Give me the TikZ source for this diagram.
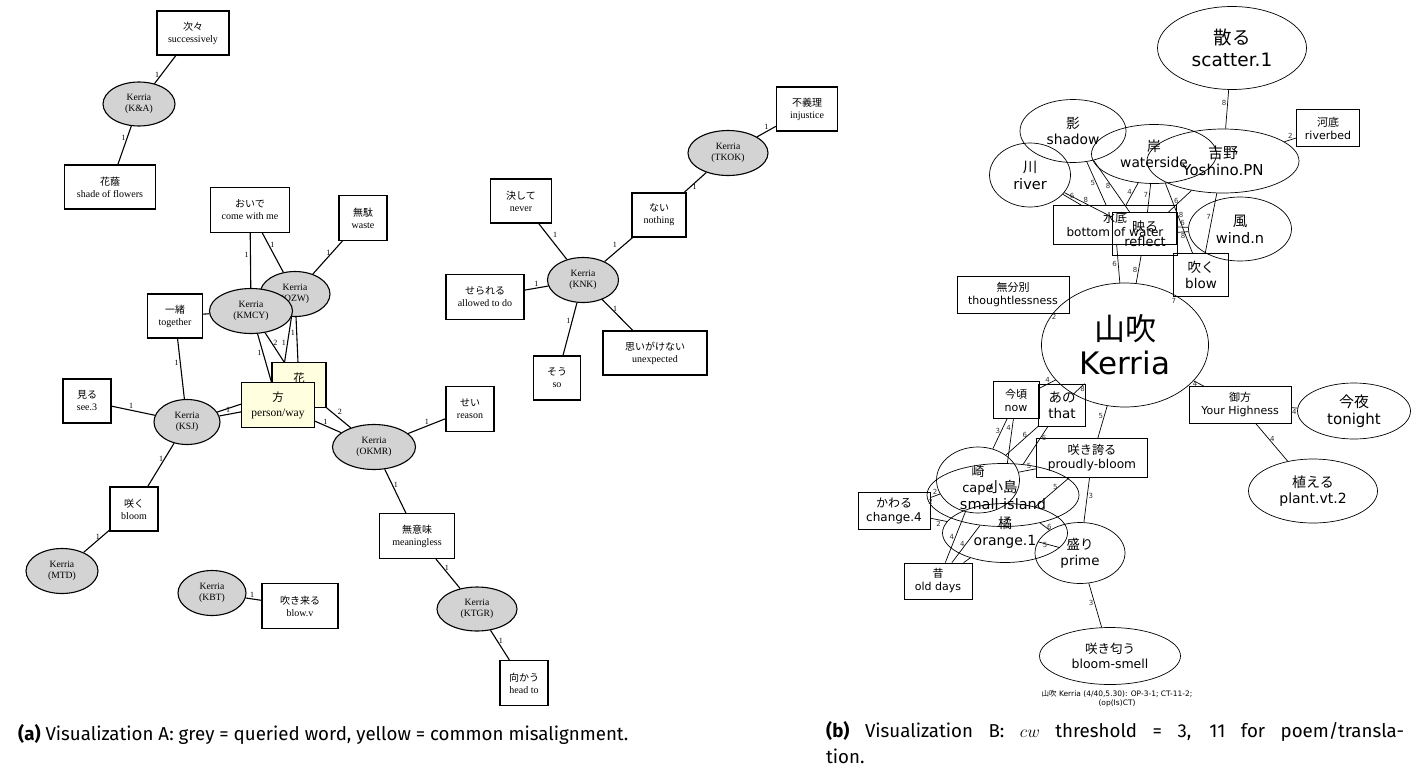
\documentclass[tikz,border=0pt]{standalone}
\usepackage{fontspec}
\setmainfont{Liberation Serif}
\newfontfamily\jp{Noto Sans CJK JP}
\newfontfamily\dv{DejaVu Sans}
\newfontfamily\fira{Fira Sans}
\usetikzlibrary{shapes.geometric,backgrounds}
\definecolor{kgrey}{HTML}{D3D3D3}
\definecolor{kyellow}{HTML}{FFFFE0}

\tikzset{
  sz/.style n args={2}{minimum width=#1, minimum height=#2},
  % left graph: filled nodes, serif labels
  lnode/.style={draw, line width=1.1pt, fill=white, inner sep=0pt, align=center,
                font=\fontsize{10}{12}\selectfont},
  lbx/.style={lnode, rectangle},
  kel/.style={lnode, ellipse, fill=kgrey, font=\fontsize{9.6}{11}\selectfont},
  ybx/.style={lnode, rectangle, fill=kyellow, font=\fontsize{11.5}{15}\selectfont},
  ledge/.style={line width=1.1pt},
  llab/.style={font=\fontsize{8}{8}\selectfont, inner sep=1.2pt},
  % right graph: open nodes, sans labels
  rf/.style n args={2}{font=\dv\fontsize{#1}{#2}\selectfont},
  rnode/.style={draw, line width=0.7pt, inner sep=0pt, align=center},
  rbx/.style={rnode, rectangle},
  rel/.style={rnode, ellipse},
  redge/.style={line width=0.7pt},
  rlab/.style={font=\dv\fontsize{7}{7}\selectfont, inner sep=1pt, text=black!80},
  captext/.style={font=\fira\fontsize{18.7}{26}\selectfont, inner sep=0pt},
}
\newcommand\lkn[5]{\draw[ledge] (#1) -- node[llab,pos=#4,#5]{#3} (#2);}
\newcommand\rkn[5]{\draw[redge] (#1) -- node[rlab,pos=#4,#5]{#3} (#2);}

\begin{document}
\begin{tikzpicture}[x=1pt,y=-1pt]
\useasboundingbox (0,0) rectangle (1416,774);

% ---------------- left graph ----------------
\node[lbx, sz={72}{44}] (tsugi) at (193,33) {{\jp 次々}\\successively};
\node[kel, sz={72}{44}] (ka) at (139,104) {Kerria\\(K\&A)};
\node[lbx, sz={91}{44}] (kage1) at (110,187) {{\jp 花蔭}\\shade of flowers};
\node[lbx, sz={79}{45}] (oide) at (250,210) {{\jp おいで}\\come with me};
\node[lbx, sz={48}{45}] (muda) at (363,218) {{\jp 無駄}\\waste};
\node[kel, sz={70}{45}] (ozw) at (295,294) {Kerria\\(OZW)};
\node[kel, sz={83}{45}] (kmcy) at (251,311) {Kerria\\(KMCY)};
\node[lbx, sz={55}{44}] (issho) at (175,316) {{\jp 一緒}\\together};
\node[ybx, sz={54}{45}] (hana) at (299,385) {{\jp 花}\\\phantom{flower}};
\node[ybx, sz={73}{45}] (kata) at (278,405) {{\jp 方}\\person/way};
\node[kel, sz={66}{45}] (ksj) at (187,422) {Kerria\\(KSJ)};
\node[lbx, sz={48}{44}] (miru) at (87,401) {{\jp 見る}\\see.3};
\node[lbx, sz={48}{44}] (saku) at (134,509) {{\jp 咲く}\\bloom};
\node[kel, sz={72}{45}] (mtd) at (62,571) {Kerria\\(MTD)};
\node[kel, sz={68}{45}] (kbt) at (212,593) {Kerria\\(KBT)};
\node[lbx, sz={76}{45}] (fukikuru) at (300,606) {{\jp 吹き来る}\\blow.v};
\node[kel, sz={83}{45}] (okmr) at (374,447) {Kerria\\(OKMR)};
\node[lbx, sz={48}{45}] (sei) at (470,409) {{\jp せい}\\reason};
\node[lbx, sz={75}{45}] (muimi) at (417,536) {{\jp 無意味}\\meaningless};
\node[kel, sz={80}{44}] (ktgr) at (477,609) {Kerria\\(KTGR)};
\node[lbx, sz={48}{45}] (mukau) at (524,683) {{\jp 向かう}\\head to};
\node[lbx, sz={61}{44}] (fugiri) at (807,109) {{\jp 不義理}\\injustice};
\node[kel, sz={80}{45}] (tkok) at (728,153) {Kerria\\(TKOK)};
\node[lbx, sz={54}{44}] (nai) at (659,215) {{\jp ない}\\nothing};
\node[lbx, sz={61}{44}] (kesshite) at (521,201) {{\jp 決して}\\never};
\node[kel, sz={71}{45}] (knk) at (583,280) {Kerria\\(KNK)};
\node[lbx, sz={78}{45}] (serareru) at (485,297) {{\jp せられる}\\allowed to do};
\node[lbx, sz={47}{44}] (sou) at (557,378) {{\jp そう}\\so};
\node[lbx, sz={104}{44}] (omoi) at (655,353) {{\jp 思いがけない}\\unexpected};

\begin{pgfonlayer}{background}
\lkn{ka}{tsugi}{1}{.3}{left}
\lkn{ka}{kage1}{1}{.3}{left}
\lkn{kmcy}{oide}{1}{.6}{left}
\lkn{ozw}{oide}{1}{.7}{right}
\lkn{ozw}{muda}{1}{.65}{left}
\draw[ledge] (kmcy) -- (issho);
\lkn{ksj}{issho}{1}{.6}{left}
\lkn{ksj}{miru}{1}{.55}{above}
\lkn{ksj}{kata}{1}{.4}{above}
\draw[ledge] (ksj) -- (hana);
\lkn{ksj}{saku}{1}{.35}{left}
\lkn{saku}{mtd}{1}{.3}{left}
\lkn{kmcy}{kata}{1}{.4}{left}
\lkn{kmcy}{hana}{2}{.35}{right}
\lkn{ozw}{kata}{1}{.4}{left}
\lkn{ozw}{hana}{1}{.35}{left}
\lkn{kata}{okmr}{1}{.4}{above}
\lkn{hana}{okmr}{2}{.4}{above right}
\lkn{okmr}{sei}{1}{.5}{above}
\lkn{okmr}{muimi}{1}{.35}{right}
\lkn{muimi}{ktgr}{1}{.3}{right}
\lkn{ktgr}{mukau}{1}{.35}{right}
\lkn{kbt}{fukikuru}{1}{.4}{above}
\lkn{knk}{kesshite}{1}{.55}{above right}
\lkn{knk}{serareru}{1}{.5}{above}
\lkn{knk}{sou}{1}{.35}{left}
\lkn{knk}{omoi}{1}{.3}{right}
\lkn{knk}{nai}{1}{.5}{above left}
\lkn{nai}{tkok}{1}{.3}{right}
\lkn{tkok}{fugiri}{1}{.5}{above}
\end{pgfonlayer}

% ---------------- right graph ----------------
\node[rel, sz={149}{83}, rf={18.5}{22}] (chiru) at (1232,48) {{\jp 散る}\\scatter.1};
\node[rbx, sz={63}{37}, rf={11}{13}] (kawazoko) at (1328,128) {{\jp 河底}\\riverbed};
\node[rel, sz={106}{63}, rf={13.8}{16}] (kage) at (1073,131) {{\jp 影}\\shadow};
\node[rel, sz={125}{59}, rf={13.8}{16}] (kishi) at (1154,154) {{\jp 岸}\\waterside};
\node[rel, sz={152}{64}, rf={15}{17}] (yoshino) at (1223,161) {{\jp 吉野}\\Yoshino.PN};
\node[rel, sz={81}{64}, rf={14.5}{17}] (kawa) at (1030,175) {{\jp 川}\\river};
\node[rel, sz={103}{64}, rf={14.5}{17}] (kaze) at (1240,229) {{\jp 風}\\wind.n};
\node[rbx, sz={123}{39}, rf={12}{14}] (minasoko) at (1115,225) {{\jp 水底}\\bottom of water};
\node[rbx, sz={65}{43}, rf={13}{15}] (utsuru) at (1145,234) {{\jp 映る}\\reflect};
\node[rbx, sz={55}{43}, rf={13.5}{15.5}] (fuku) at (1201,275) {{\jp 吹く}\\blow};
\node[rbx, sz={112}{37}, rf={11}{13}] (mufunbetsu) at (1013,295) {{\jp 無分別}\\thoughtlessness};
\node[rel, sz={167}{124}, rf={31}{34}] (yamabuki) at (1125,345) {{\jp 山吹}\\Kerria};
\node[rbx, sz={46}{37}, rf={11}{13}] (imagoro) at (1016,400) {{\jp 今頃}\\now};
\node[rbx, sz={47}{42}, rf={13.5}{15.5}] (ano) at (1062,405) {{\jp あの}\\that};
\node[rbx, sz={102}{37}, rf={11}{13}] (okata) at (1240,405) {{\jp 御方}\\Your Highness};
\node[rel, sz={113}{56}, rf={15}{17}] (konya) at (1354,411) {{\jp 今夜}\\tonight};
\node[rel, sz={129}{64}, rf={14}{16}] (ueru) at (1313,491) {{\jp 植える}\\plant.vt.2};
\node[rbx, sz={111}{39}, rf={12.2}{14}] (sakihokoru) at (1092,458) {{\jp 咲き誇る}\\proudly-bloom};
\node[rel, sz={83}{66}, rf={13}{16}] (saki) at (978,480) {{\jp 崎}\\cape};
\node[rel, sz={152}{63}, rf={14.5}{17}] (kojima) at (1003,495) {{\jp 小島}\\small island};
\node[rel, sz={125}{59}, rf={14}{17}] (tachibana) at (1005,533) {{\jp 橘}\\orange.1};
\node[rel, sz={90}{61}, rf={13.4}{16}] (sakari) at (1080,553) {{\jp 盛り}\\prime};
\node[rbx, sz={72}{37}, rf={12}{14}] (kawaru) at (894,511) {{\jp かわる}\\change.4};
\node[rbx, sz={68}{36}, rf={11}{13}] (mukashi) at (938,581) {{\jp 昔}\\old days};
\node[rel, sz={141}{57}, rf={12.5}{15}] (sakinioi) at (1110,656) {{\jp 咲き匂う}\\bloom-smell};
\node[align=center, rf={7.5}{9}] (stats) at (1117,699)
  {{\jp 山吹} Kerria (4/40,5.30): OP-3-1; CT-11-2;\\(op(Is)CT)};

\rkn{chiru}{yoshino}{8}{.35}{left}
\rkn{yoshino}{kawazoko}{2}{.5}{above}
\rkn{kawa}{minasoko}{6}{.5}{above}
\rkn{kawa}{utsuru}{8}{.45}{above}
\rkn{kage}{minasoko}{5}{.5}{left}
\rkn{kage}{utsuru}{8}{.5}{left}
\rkn{kishi}{minasoko}{4}{.4}{left}
\rkn{kishi}{utsuru}{7}{.4}{left}
\rkn{yoshino}{utsuru}{6}{.5}{left}
\rkn{kishi}{fuku}{8}{.45}{right}
\rkn{kaze}{minasoko}{6}{.5}{above}
\rkn{kaze}{utsuru}{8}{.5}{below}
\rkn{yoshino}{fuku}{7}{.4}{left}
\rkn{minasoko}{yamabuki}{6}{.5}{left}
\rkn{utsuru}{yamabuki}{8}{.5}{left}
\rkn{fuku}{yamabuki}{7}{.5}{below left}
\rkn{mufunbetsu}{yamabuki}{2}{.5}{below}
\rkn{yamabuki}{okata}{4}{.5}{left}
\rkn{okata}{konya}{4}{.5}{below}
\rkn{okata}{ueru}{4}{.4}{right}
\rkn{yamabuki}{imagoro}{4}{.5}{above}
\rkn{yamabuki}{ano}{8}{.5}{right}
\rkn{yamabuki}{sakihokoru}{5}{.3}{left}
\rkn{sakihokoru}{sakari}{3}{.4}{right}
\rkn{sakari}{sakinioi}{3}{.45}{left}
\rkn{imagoro}{saki}{3}{.4}{left}
\rkn{imagoro}{kojima}{4}{.2}{left}
\rkn{ano}{saki}{6}{.3}{left}
\rkn{ano}{kojima}{6}{.3}{right}
\rkn{sakihokoru}{saki}{5}{.4}{above}
\rkn{sakihokoru}{tachibana}{5}{.3}{left}
\rkn{kojima}{sakari}{6}{.6}{right}
\rkn{tachibana}{sakari}{5}{.5}{left}
\rkn{kawaru}{saki}{2}{.5}{above}
\rkn{kawaru}{kojima}{2}{.5}{above}
\rkn{kawaru}{tachibana}{2}{.5}{below}
\rkn{mukashi}{saki}{4}{.5}{left}
\rkn{mukashi}{kojima}{4}{.5}{left}
\draw[redge] (mukashi) -- (tachibana);

% ---------------- captions ----------------
\node[captext, anchor=west] (capa) at (18,734)
  {\textbf{(a)} Visualization A: grey = queried word, yellow = common misalignment.};
\node[captext, anchor=north west, text width=578pt, align=justify] (capb) at (826,721)
  {\textbf{(b)} Visualization B: $cw$ threshold = 3, 11 for poem/transla-\linebreak tion.};
\end{tikzpicture}
\end{document}
